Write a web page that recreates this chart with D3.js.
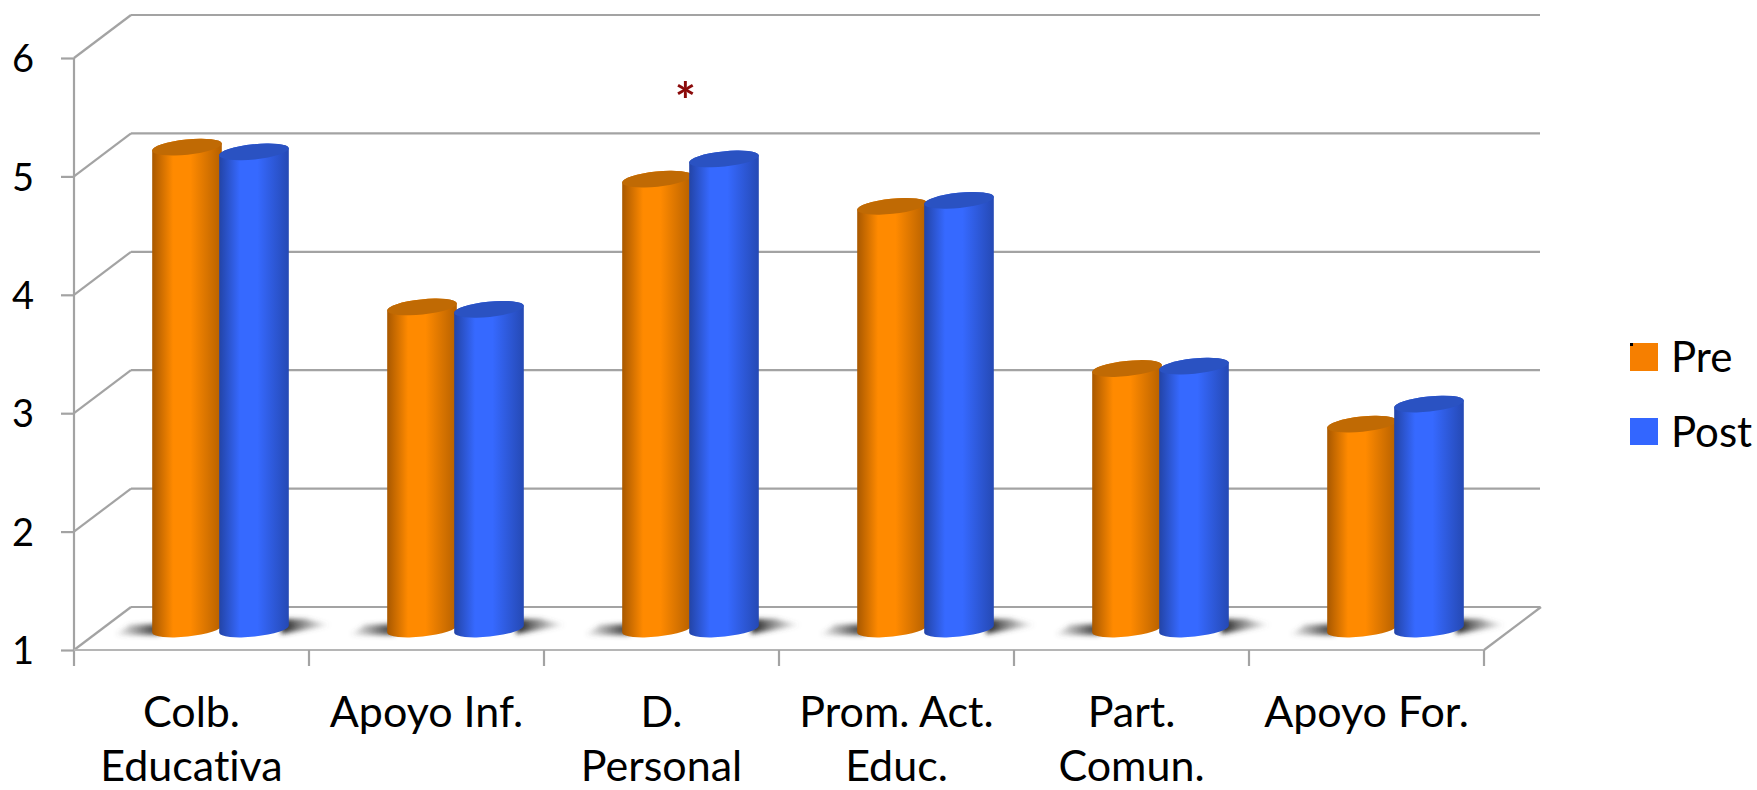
<!DOCTYPE html>
<html><head><meta charset="utf-8">
<script src="https://cdn.jsdelivr.net/npm/d3@7"></script>
<style>html,body{margin:0;padding:0;background:#fff;overflow:hidden}svg{display:block}
text{font-family:Lato,"Open Sans",sans-serif;fill:#000;font-variant-ligatures:none}</style></head>
<body><svg id="c" width="1757" height="790"></svg>
<script>
const categories = ["Colb. Educativa","Apoyo Inf.","D. Personal","Prom. Act. Educ.","Part. Comun.","Apoyo For."];
const categoryLines = [["Colb.","Educativa"],["Apoyo Inf."],["D.","Personal"],["Prom. Act.","Educ."],["Part.","Comun."],["Apoyo For."]];
const seriesNames = ["Pre","Post"];
const preValues  = [5.07,3.72,4.80,4.57,3.20,2.73];
const postValues = [5.03,3.70,4.97,4.62,3.22,2.90];
const yTicks = [1,2,3,4,5,6];
const starCategory = "D. Personal";

const W=1757,H=790, frontL=74, frontR=1484, frontB=650, frontT=58, dx=57, dy=43, midDrop=21;
const svg=d3.select("#c");
const defs=svg.append("defs");
const palette={Pre:{dark:"#a85800",mid:"#ff8a00",end:"#b56000",top:"#c06a04",swatch:"#f67f00"},
               Post:{dark:"#2344a6",mid:"#3669ff",end:"#2549b4",top:"#2a52c2",swatch:"#3366ff"}};
seriesNames.forEach(s=>{
  const g=defs.append("linearGradient").attr("id","body"+s).attr("x1",0).attr("x2",1).attr("y1",0).attr("y2",0);
  [[0,palette[s].dark],[.3,palette[s].mid],[.55,palette[s].mid],[1,palette[s].end]].forEach(([o,c])=>g.append("stop").attr("offset",o).attr("stop-color",c));
});
const sl=defs.append("linearGradient").attr("id","shL").attr("x1",0).attr("x2",1).attr("y1",0).attr("y2",0);
sl.append("stop").attr("offset",0).attr("stop-color","#555").attr("stop-opacity",0);
sl.append("stop").attr("offset",.8).attr("stop-color","#444").attr("stop-opacity",.9);
const sr=defs.append("linearGradient").attr("id","shR").attr("x1",0).attr("x2",1).attr("y1",0).attr("y2",0);
sr.append("stop").attr("offset",.1).attr("stop-color","#333").attr("stop-opacity",1);
sr.append("stop").attr("offset",1).attr("stop-color","#666").attr("stop-opacity",0);
defs.append("filter").attr("id","soft").attr("x","-20%").attr("y","-50%").attr("width","140%").attr("height","200%")
  .append("feGaussianBlur").attr("stdDeviation",2.6);

const yFront=d3.scaleLinear().domain([1,6]).range([frontB,frontT]);
const yBack=d3.scaleLinear().domain([1,6]).range([frontB-dy,frontT-dy]);
const yBar=d3.scaleLinear().domain([1,6]).range([frontB-midDrop,frontT-midDrop]);
const x0=d3.scaleBand().domain(categories).range([frontL,frontR]);
const x1=d3.scaleBand().domain(seriesNames).range([79.5,213.5]);
const gridColor="#a3a3a3";
const fontStack='Lato,"Open Sans",sans-serif';

// walls
const walls=svg.append("g").attr("fill","none").attr("stroke",gridColor).attr("stroke-width",2.2);
walls.selectAll(".back").data(yTicks).join("line").attr("x1",frontL+dx).attr("x2",frontR+dx-1)
  .attr("y1",d=>yBack(d)).attr("y2",d=>yBack(d));
walls.selectAll(".diag").data(yTicks).join("line").attr("x1",frontL).attr("x2",frontL+dx)
  .attr("y1",d=>yFront(d)).attr("y2",d=>yBack(d));
walls.append("line").attr("x1",frontR).attr("x2",frontR+dx).attr("y1",yFront(1)).attr("y2",yBack(1));

// y axis
const yAxis=svg.append("g").attr("transform",`translate(${frontL},0)`)
  .call(d3.axisLeft(yFront).tickValues(yTicks).tickSize(13).tickPadding(27).tickFormat(d3.format("d")));
yAxis.selectAll("path,line").attr("stroke",gridColor).attr("stroke-width",2.2);
yAxis.select(".domain").attr("d",`M0,${frontT}V${frontB+16}`);
yAxis.selectAll("text").attr("font-size",38).attr("font-family",fontStack).attr("dy","0.36em");

// x axis
const xAxis=svg.append("g").attr("transform",`translate(0,${frontB})`)
  .call(d3.axisBottom(x0).tickSize(0).tickPadding(0));
xAxis.select(".domain").attr("d",`M${frontL},0H${frontR}`).attr("stroke","#b5b5b5").attr("stroke-width",2.2);
xAxis.selectAll(".sep").data(categories).join("line").attr("class","sep")
  .attr("x1",d=>x0(d)+x0.bandwidth()).attr("x2",d=>x0(d)+x0.bandwidth())
  .attr("y1",0).attr("y2",16).attr("stroke",gridColor).attr("stroke-width",2.2);
xAxis.selectAll(".tick text").each(function(d,i){
  const t=d3.select(this).text(null).attr("font-size",43).attr("font-family",fontStack).attr("y",0).attr("dy",null);
  categoryLines[i].forEach((l,k)=>t.append("tspan").attr("x",0).attr("y",77+k*54).text(l));
});

// shadows
const groups=svg.append("g").selectAll("g").data(categories).join("g").attr("transform",d=>`translate(${x0(d)},0)`);
const floorY=yBar(1), rx=35, ry=7.6, tilt=-6, cs=Math.cos(tilt*Math.PI/180), sn=Math.sin(-tilt*Math.PI/180);
const barW=x1.bandwidth();
groups.append("path").attr("filter","url(#soft)").attr("fill","url(#shL)")
  .attr("d",()=>{const l=x1("Pre")+barW/2-rx;return `M${l-38},${floorY+6}L${l-22},${floorY-4}L${l+8},${floorY-5}V${floorY+6}Z`;});
groups.append("path").attr("filter","url(#soft)").attr("fill","url(#shR)")
  .attr("d",()=>{const r=x1("Post")+barW/2+rx;return `M${r-8},${floorY-10}L${r+16},${floorY-10}L${r+42},${floorY-4}L${r-8},${floorY+5}Z`;});

// cylinders
function cyl(sel,name,values){
  const g=sel.append("g");
  const cx=x1(name)+barW/2;
  g.append("path").attr("fill",`url(#body${name})`).attr("d",(d,i)=>{
    const top=yBar(values[i]);
    return `M${cx-rx*cs},${top+rx*sn}L${cx-rx*cs},${floorY+rx*sn}A${rx},${ry} ${tilt} 0 0 ${cx+rx*cs},${floorY-rx*sn}L${cx+rx*cs},${top-rx*sn}A${rx},${ry} ${tilt} 0 0 ${cx-rx*cs},${top+rx*sn}Z`;
  });
  g.append("ellipse").attr("cx",cx).attr("cy",(d,i)=>yBar(values[i])).attr("rx",rx).attr("ry",ry)
    .attr("transform",(d,i)=>`rotate(${tilt} ${cx} ${yBar(values[i])})`).attr("fill",palette[name].top);
}
cyl(groups,"Pre",preValues);
cyl(groups,"Post",postValues);

// significance marker
svg.append("text").attr("x",x0(starCategory)+x1("Post")-5).attr("y",119).attr("text-anchor","middle")
  .attr("font-size",50).attr("font-weight",700).style("fill","#8b0a0a").text("*");

// legend
const leg=svg.append("g").selectAll("g").data(seriesNames).join("g").attr("transform",(d,i)=>`translate(1630,${343+i*75})`);
leg.append("rect").attr("width",28).attr("height",d=>d==="Pre"?28:27).attr("fill",d=>palette[d].swatch);
leg.filter(d=>d==="Pre").append("rect").attr("width",3).attr("height",3).attr("fill","#000");
leg.append("text").attr("x",41).attr("y",29).attr("font-size",42).text(d=>d);
</script></body></html>
